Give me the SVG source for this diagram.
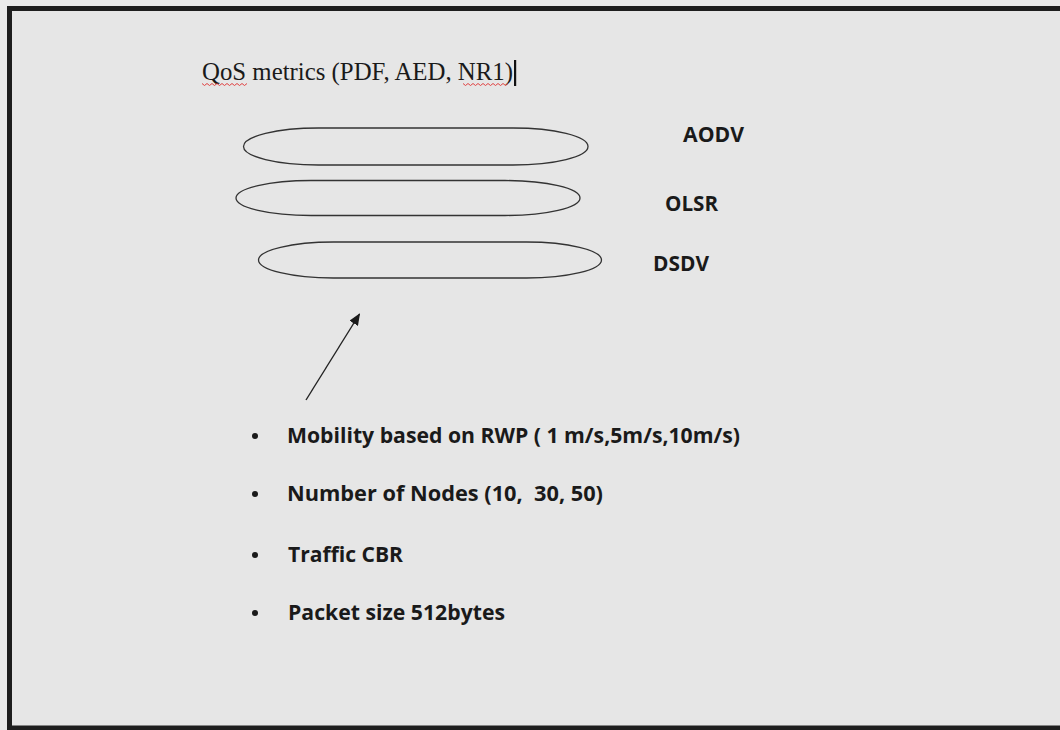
<svg xmlns="http://www.w3.org/2000/svg" width="1060" height="730" viewBox="0 0 1060 730">
  <defs>
    <style>
      .frame { fill: #e6e6e6; stroke: #1e1e1e; stroke-width: 5; }
      .pill { fill: none; stroke: #333; stroke-width: 1.3; }
      .lbl { font-family: "Open Sans", Lato, "Liberation Sans", sans-serif; font-weight: bold; font-size: 21px; fill: #1a1a1a; white-space: pre; }
      .title { font-family: "Liberation Serif", "Times New Roman", serif; font-size: 25.5px; fill: #1a1a1a; }
      .squig { fill: none; stroke: #e03030; stroke-width: 0.9; }
      .conn { stroke: #222; stroke-width: 1.4; fill: none; }
      .bullet { fill: #1a1a1a; }
    </style>
    <marker id="arr" viewBox="0 0 12 10" refX="11" refY="5" markerWidth="12" markerHeight="10" markerUnits="userSpaceOnUse" orient="auto">
      <path d="M0,0 L12,5 L0,10 Z" fill="#1a1a1a"/>
    </marker>
  </defs>

  <rect x="0" y="0" width="1060" height="730" fill="#eaeaea"/>
  <rect class="frame" x="9.5" y="8.5" width="1100" height="719.5"/>

  <g id="title">
    <text class="title" x="202" y="79.5" textLength="311" lengthAdjust="spacingAndGlyphs">QoS metrics (PDF, AED, NR1)</text>
    <path class="squig" d="M202,83.5 l2.5,2 l2.5,-2 l2.5,2 l2.5,-2 l2.5,2 l2.5,-2 l2.5,2 l2.5,-2 l2.5,2 l2.5,-2 l2.5,2 l2.5,-2 l2.5,2 l2.5,-2 l2.5,2 l2.5,-2 l2.5,2 l2.5,-2"/>
    <path class="squig" d="M463,83.5 l2.5,2 l2.5,-2 l2.5,2 l2.5,-2 l2.5,2 l2.5,-2 l2.5,2 l2.5,-2 l2.5,2 l2.5,-2 l2.5,2 l2.5,-2 l2.5,2 l2.5,-2 l2.5,2 l2.5,-2 l2.5,2 l2.5,-2"/>
    <rect x="514" y="60" width="2.2" height="26" fill="#111"/>
  </g>

  <g id="aodv">
    <rect class="pill" x="243.5" y="128" width="344.5" height="37" rx="75" ry="18.5"/>
    <text class="lbl" x="683" y="142" textLength="61" lengthAdjust="spacingAndGlyphs">AODV</text>
  </g>
  <g id="olsr">
    <rect class="pill" x="236" y="180.5" width="344" height="35" rx="75" ry="17.5"/>
    <text class="lbl" x="665" y="211" textLength="53" lengthAdjust="spacingAndGlyphs">OLSR</text>
  </g>
  <g id="dsdv">
    <rect class="pill" x="258.5" y="242" width="343" height="36" rx="75" ry="18"/>
    <text class="lbl" x="653" y="271" textLength="56" lengthAdjust="spacingAndGlyphs">DSDV</text>
  </g>

  <g id="connectors">
    <line class="conn" x1="306" y1="400" x2="359.5" y2="314" marker-end="url(#arr)"/>
  </g>

  <g id="params">
    <circle class="bullet" cx="255" cy="436" r="3"/>
    <text class="lbl" x="287" y="443" textLength="453" lengthAdjust="spacingAndGlyphs">Mobility based on RWP ( 1 m/s,5m/s,10m/s)</text>
    <circle class="bullet" cx="255" cy="494" r="3"/>
    <text class="lbl" x="287" y="501" textLength="316" lengthAdjust="spacingAndGlyphs" xml:space="preserve">Number of Nodes (10,  30, 50)</text>
    <circle class="bullet" cx="255" cy="555" r="3"/>
    <text class="lbl" x="288" y="562" textLength="115" lengthAdjust="spacingAndGlyphs">Traffic CBR</text>
    <circle class="bullet" cx="255" cy="613" r="3"/>
    <text class="lbl" x="288" y="620" textLength="217" lengthAdjust="spacingAndGlyphs">Packet size 512bytes</text>
  </g>
</svg>
